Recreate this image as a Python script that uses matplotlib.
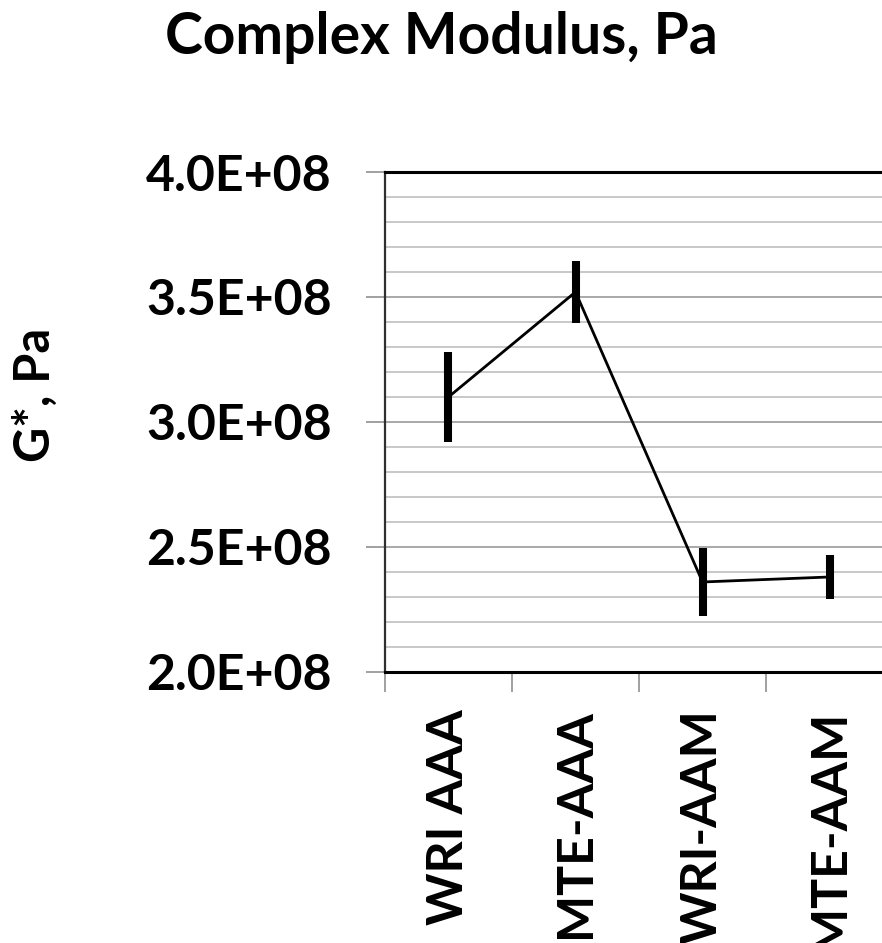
import matplotlib
matplotlib.use('Agg')
import matplotlib.pyplot as plt
from matplotlib.ticker import MultipleLocator, FuncFormatter, FixedLocator

plt.rcParams['font.family'] = ['Lato', 'DejaVu Sans']
plt.rcParams['font.weight'] = 'bold'

# Complex modulus per sample (Pa) with error bar half-widths
categories = ['WRI AAA', 'MTE-AAA', 'WRI-AAM', 'MTE-AAM']
g_star = [3.10e8, 3.52e8, 2.36e8, 2.38e8]
g_err = [0.18e8, 0.124e8, 0.135e8, 0.087e8]

fig = plt.figure(figsize=(8.82, 9.43), dpi=100)
# axes run past the right edge of the figure, as in the cropped original
ax = fig.add_axes([0.4365, 0.2874, 0.5760, 0.5302])

xs = list(range(len(categories)))
ax.errorbar(xs, g_star, yerr=g_err, fmt='-', color='black', lw=2.0,
            elinewidth=5.8, capsize=0, zorder=3)

ax.set_xlim(-0.5, len(categories) - 0.5)
ax.set_ylim(2.0e8, 4.0e8)

# y axis: labelled every 0.5E+08, grid every 0.1E+08
ax.yaxis.set_major_locator(MultipleLocator(0.5e8))
ax.yaxis.set_minor_locator(MultipleLocator(0.1e8))
ax.yaxis.set_major_formatter(FuncFormatter(lambda v, p: f"{v/1e8:.1f}E+08"))
ax.tick_params(axis='y', which='major', length=13.7, width=1.2, color='#909090',
               pad=24.5, labelsize=36)
ax.tick_params(axis='y', which='minor', length=0)
ax.grid(True, axis='y', which='major', color='#a8a8a8', lw=1.4)
ax.grid(True, axis='y', which='minor', color='#c8c8c8', lw=1.4)
ax.set_axisbelow(True)

# x axis: tick marks between categories, labels at the centres
ax.xaxis.set_major_locator(FixedLocator([i - 0.5 for i in range(len(categories) + 1)]))
ax.xaxis.set_major_formatter(FuncFormatter(lambda v, p: ''))
ax.xaxis.set_minor_locator(FixedLocator(xs))
ax.set_xticklabels(categories, minor=True, rotation=90, va='top', ha='center')
ax.tick_params(axis='x', which='major', length=14.4, width=1.2, color='#909090')
ax.tick_params(axis='x', which='minor', length=0, pad=27, labelsize=36)

ax.spines['top'].set_linewidth(2.2)
ax.spines['bottom'].set_linewidth(2.2)
ax.spines['left'].set_linewidth(1.6)
ax.spines['left'].set_color('#303030')
ax.spines['right'].set_linewidth(2.2)

fig.text(0.5, 1 - 54 / 943, 'Complex Modulus, Pa', fontsize=41,
         fontweight='bold', ha='center', va='baseline')
fig.text(35 / 882, 1 - 394.5 / 943, 'G*, Pa', fontsize=35, fontweight='bold',
         rotation=90, ha='center', va='center')

fig.savefig('out.png', dpi=100)
